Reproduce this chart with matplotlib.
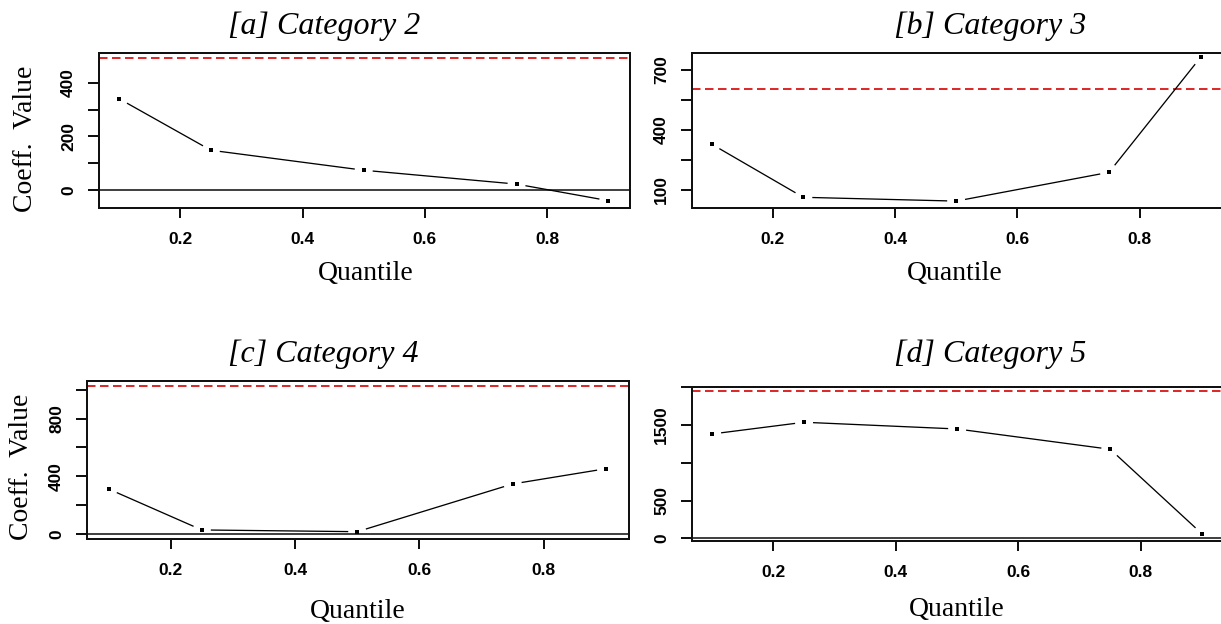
import numpy as np
import matplotlib
matplotlib.use("Agg")
import matplotlib.pyplot as plt

# ---------------- data ----------------
quantiles = [0.1, 0.25, 0.5, 0.75, 0.9]
titles = ["[a] Category 2", "[b] Category 3", "[c] Category 4", "[d] Category 5"]
coef_cat2 = [341, 148, 73, 21, -41]
coef_cat3 = [328, 62, 43, 187, 763]
coef_cat4 = [311, 26, 14, 346, 452]
coef_cat5 = [1382, 1537, 1448, 1179, 57]
ref_values = [495, 602, 1027, 1948]          # red dashed reference line
xtick_vals = [0.2, 0.4, 0.6, 0.8]
ytick_cat2 = [0, 100, 200, 300, 400]
ylab_cat2 = ["0", "", "200", "", "400"]
ytick_cat3 = [100, 250, 400, 550, 700]
ylab_cat3 = ["100", "", "400", "", "700"]
ytick_cat4 = [0, 200, 400, 600, 800, 1000]
ylab_cat4 = ["0", "", "400", "", "800", ""]
ytick_cat5 = [0, 500, 1000, 1500, 2000]
ylab_cat5 = ["0", "500", "", "1500", ""]

series = [coef_cat2, coef_cat3, coef_cat4, coef_cat5]
yticks = [ytick_cat2, ytick_cat3, ytick_cat4, ytick_cat5]
ylabs = [ylab_cat2, ylab_cat3, ylab_cat4, ylab_cat5]

# ---------------- layout (pixels) ----------------
W, H = 1221, 624
plt.rcParams['lines.scale_dashes'] = False
fig = plt.figure(figsize=(W / 100, H / 100), dpi=100)
PT = 72 / 100  # points per pixel

# box: left, right, top, bottom (pixels)
boxes = [(98.7, 630, 52.7, 208.3),
         (691.7, 1222, 52.7, 208.3),
         (86.7, 629, 381, 539.3),
         (691.7, 1222, 386.7, 540.7)]
xlims = [(0.0666, 0.9355), (0.0675, 0.9347), (0.0649, 0.937), (0.0666, 0.9324)]
ylims = [(-69.7, 513.6), (7, 785), (-39, 1062), (-32, 2008)]
title_pos = [(324, 34), (990, 34), (323.7, 361.7), (990, 361.7)]
xlab_pos = [(365.7, 280), (954.7, 280), (357.5, 618), (956.5, 616)]
ylab_pos = [(26, 139), None, (22, 466.5), None]
zero_line = [True, False, True, True]

serif = "Liberation Serif"
sans = "Liberation Sans"


def broken_line(ax, x, y, gap=9.0):
    pts = ax.transData.transform(np.column_stack([x, y]))
    inv = ax.transData.inverted()
    for i in range(len(pts) - 1):
        p0, p1 = pts[i], pts[i + 1]
        d = p1 - p0
        L = np.hypot(*d)
        if L <= 2 * gap:
            continue
        u = d / L
        a = inv.transform(p0 + u * gap)
        b = inv.transform(p1 - u * gap)
        ax.plot([a[0], b[0]], [a[1], b[1]], color="black", lw=1.3 * PT,
                solid_capstyle="butt", zorder=3)
    ax.plot(x, y, linestyle="none", marker="s", ms=3.6 * PT, color="black",
            mec="black", mew=0, zorder=4)


for i in range(4):
    l, r, t, b = boxes[i]
    ax = fig.add_axes([l / W, 1 - b / H, (r - l) / W, (b - t) / H])
    ax.set_xlim(*xlims[i])
    ax.set_ylim(*ylims[i])
    for s in ax.spines.values():
        s.set_linewidth(2 * PT)
        s.set_color("#111111")
    ax.set_xticks(xtick_vals)
    ax.set_xticklabels([f"{v:.1f}" for v in xtick_vals], fontfamily=sans,
                       fontweight="bold", fontsize=12.5)
    ax.set_yticks(yticks[i])
    ax.set_yticklabels(ylabs[i], fontfamily=sans, fontweight="bold",
                       fontsize=12.5, rotation=90, va="center")
    ax.tick_params(axis="x", length=10 * PT, width=2 * PT, pad=10,
                   direction="out", color="#111111")
    ax.tick_params(axis="y", length=11.5 * PT, width=2 * PT, pad=8,
                   direction="out", color="#111111")
    if zero_line[i]:
        ax.axhline(0, color="#3a3a3a", lw=1.9 * PT, zorder=2)
    ax.axhline(ref_values[i], color="#dd2a2a", lw=2 * PT,
               dashes=(8.5 * PT, 4.5 * PT), zorder=2)
    broken_line(ax, quantiles, series[i])

    tx, ty = title_pos[i]
    fig.text(tx / W, 1 - ty / H, titles[i], fontfamily=serif, style="italic",
             fontsize=23, ha="center", va="baseline")
    qx, qy = xlab_pos[i]
    fig.text(qx / W, 1 - qy / H, "Quantile", fontfamily=serif, fontsize=20,
             ha="center", va="baseline")
    if ylab_pos[i] is not None:
        yx, yy = ylab_pos[i]
        fig.text(yx / W, 1 - yy / H, "Coeff.  Value", fontfamily=serif,
                 fontsize=20, rotation=90, ha="center", va="center")

fig.savefig("out.png", dpi=100)
